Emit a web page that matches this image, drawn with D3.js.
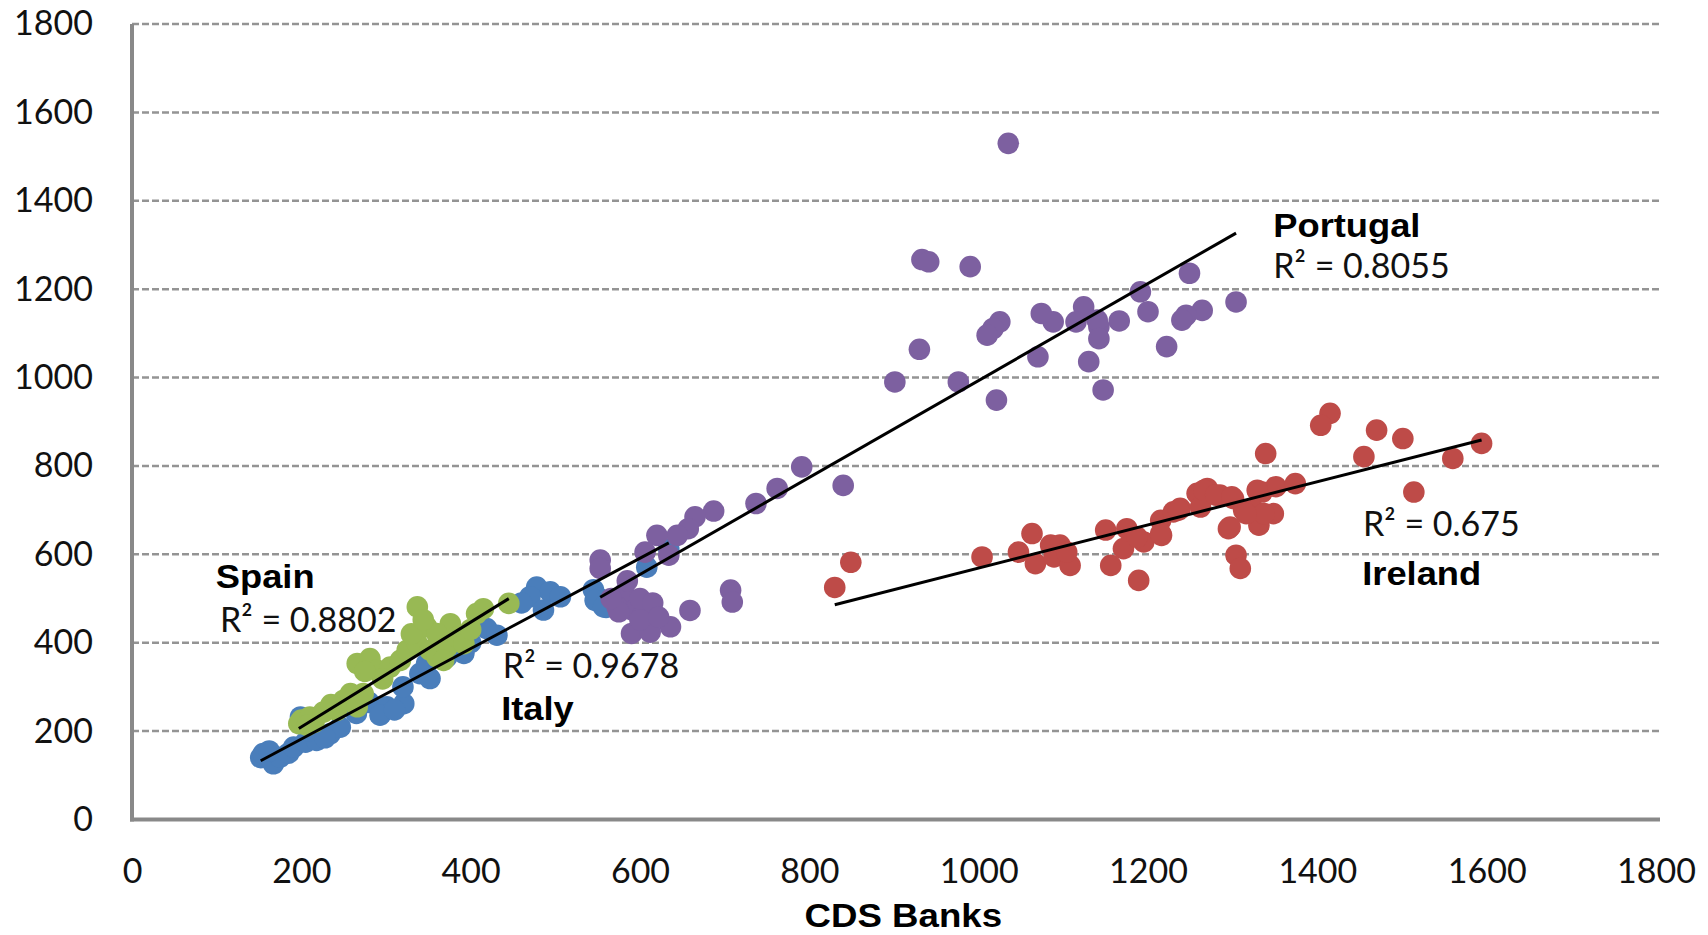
<!DOCTYPE html>
<html>
<head>
<meta charset="utf-8">
<script src="https://cdn.jsdelivr.net/npm/d3@7"></script>
<style>
    body { margin: 0; background: #fff; }
    svg { display: block; }
</style>
</head>
<body>
<svg id="chart" width="1708" height="935"></svg>
<script>
// CDS Banks vs. CDS Sovereign - Streudiagramm je Land

const countries = ['Italy', 'Spain', 'Portugal', 'Ireland'];
const rSquared = ['0.9678', '0.8802', '0.8055', '0.675'];

// Trendlinien: y = slope * x + intercept
const trendSlope = [1.023, 1.185, 1.097, 0.488];
const trendIntercept = [-22.5, -27.5, -103.6, 81];

const xTicks = [0, 200, 400, 600, 800, 1000, 1200, 1400, 1600, 1800];
const yTicks = [0, 200, 400, 600, 800, 1000, 1200, 1400, 1600, 1800];

const italyPoints = [
    [152, 140], [155, 149], [167, 126], [175, 141], [162, 155], [185, 150],
    [191, 164], [205, 175], [218, 179], [234, 194], [246, 209], [199, 232],
    [210, 200], [228, 185], [265, 240], [280, 265], [301, 255], [321, 262],
    [293, 236], [310, 248], [320, 300], [340, 330], [352, 319], [348, 353],
    [372, 368], [392, 376], [380, 390], [400, 400], [419, 432], [431, 417],
    [478, 526], [494, 515], [470, 504], [486, 474], [506, 504], [460, 490],
    [545, 520], [552, 500], [560, 480], [547, 496], [557, 481], [608, 571],
    [634, 612]
];

const spainPoints = [
    [197, 217], [200, 225], [215, 220], [210, 232], [226, 243], [207, 213],
    [242, 247], [250, 270], [258, 285], [266, 255], [273, 285], [266, 353],
    [281, 364], [289, 338], [305, 345], [317, 360], [325, 383], [337, 398],
    [337, 481], [348, 436], [352, 383], [360, 368], [372, 390], [376, 443],
    [384, 413], [392, 398], [407, 466], [415, 477], [445, 489], [360, 421],
    [368, 360], [235, 260], [296, 318], [330, 420], [344, 452], [400, 430],
    [275, 335]
];

const portugalPoints = [
    [1035, 1530], [933, 1267], [941, 1262], [990, 1251], [1249, 1236], [1191, 1194],
    [1304, 1171], [1264, 1152], [1245, 1141], [1240, 1130], [1200, 1149], [1166, 1128],
    [1142, 1115], [1140, 1130], [1142, 1088], [1124, 1160], [1115, 1126], [1088, 1126],
    [1074, 1145], [1025, 1126], [1017, 1111], [1010, 1096], [1070, 1047], [1130, 1036],
    [1147, 972], [1222, 1070], [930, 1064], [901, 990], [976, 990], [1021, 949],
    [791, 798], [840, 756], [762, 749], [737, 715], [687, 698], [665, 685],
    [657, 658], [644, 643], [620, 643], [606, 605], [634, 598], [553, 587],
    [553, 568], [581, 511], [592, 473], [604, 466], [573, 481], [590, 421],
    [612, 424], [636, 436], [659, 473], [707, 519], [709, 492], [600, 500],
    [615, 490], [585, 540], [575, 470], [600, 452], [566, 500], [622, 458]
];

const irelandPoints = [
    [830, 525], [849, 582], [1004, 594], [1047, 605], [1063, 647], [1067, 579],
    [1085, 621], [1096, 621], [1089, 594], [1108, 575], [1104, 605], [1150, 655],
    [1175, 658], [1156, 575], [1171, 613], [1189, 541], [1195, 628], [1187, 639],
    [1215, 677], [1216, 643], [1230, 696], [1238, 704], [1258, 738], [1270, 749],
    [1262, 707], [1285, 734], [1301, 726], [1295, 658], [1304, 598], [1309, 568],
    [1313, 700], [1331, 666], [1335, 741], [1348, 692], [1351, 753], [1339, 828],
    [1374, 760], [1325, 700], [1415, 919], [1404, 892], [1470, 881], [1501, 862],
    [1455, 821], [1560, 817], [1594, 851], [1514, 741], [1266, 745], [1280, 734],
    [1299, 730], [1329, 745], [1337, 692], [1316, 692], [1297, 662], [1236, 700],
    [1215, 647]
];

const seriesPoints = [italyPoints, spainPoints, portugalPoints, irelandPoints];
const seriesColors = ['#4a7ebb', '#98b954', '#7d60a0', '#be4b48'];

// Beschriftungen (Datenkoordinaten, linke Kante / Grundlinie)
const labelPos = {
    Italy:    { name: [436, 226], r2: [438, 320] },
    Spain:    { name: [99, 523],  r2: [104, 424] },
    Portugal: { name: [1348, 1318], r2: [1348, 1225] },
    Ireland:  { name: [1453, 531], r2: [1454, 641] }
};

const svg = d3.select('#chart');
const margin = { left: 132, right: 52, top: 24, bottom: 115.5 };
const width = 1708;
const height = 935;

const xScale = d3.scaleLinear()
    .domain([0, 1800])
    .range([margin.left, width - margin.right]);

const yScale = d3.scaleLinear()
    .domain([0, 1800])
    .range([height - margin.bottom, margin.top]);

const tickFont = 'Lato, "Open Sans", sans-serif';
const boldFont = 'Arial, "Liberation Sans", sans-serif';

// Gitterlinien
svg.append('g')
    .selectAll('line')
    .data(yTicks.filter(d => d > 0))
    .enter()
    .append('line')
    .attr('x1', xScale(0))
    .attr('x2', xScale(1800) + 3)
    .attr('y1', d => yScale(d))
    .attr('y2', d => yScale(d))
    .attr('stroke', '#949494')
    .attr('stroke-width', 2.5)
    .attr('stroke-dasharray', '7,3');

// Achsen
const yAxis = svg.append('g')
    .attr('transform', `translate(${xScale(0)},0)`)
    .call(d3.axisLeft(yScale).tickValues(yTicks).tickFormat(d3.format('d'))
        .tickSize(0).tickPadding(39));

const xAxis = svg.append('g')
    .attr('transform', `translate(0,${yScale(0)})`)
    .call(d3.axisBottom(xScale).tickValues(xTicks).tickFormat(d3.format('d'))
        .tickSize(0).tickPadding(39));

[yAxis, xAxis].forEach(ax => {
    ax.select('.domain')
        .attr('stroke', '#898989')
        .attr('stroke-width', 4);
    ax.selectAll('text')
        .style('font-family', tickFont)
        .style('font-size', '34px')
        .attr('fill', '#111');
});

xAxis.select('.domain')
    .attr('d', `M${xScale(0) - 2},0H${xScale(1800) + 4}`);
yAxis.select('.domain')
    .attr('d', `M0,${yScale(1800)}V${yScale(0) + 2}`);

// Punkte
seriesPoints.forEach((pts, i) => {
    svg.append('g')
        .selectAll('circle')
        .data(pts)
        .enter()
        .append('circle')
        .attr('cx', d => xScale(d[0]))
        .attr('cy', d => yScale(d[1]))
        .attr('r', 10.8)
        .attr('fill', seriesColors[i]);
});

// Trendlinien ueber den Wertebereich der Serie
seriesPoints.forEach((pts, i) => {
    const [x0, x1] = d3.extent(pts, d => d[0]);
    const f = x => trendSlope[i] * x + trendIntercept[i];
    svg.append('line')
        .attr('x1', xScale(x0))
        .attr('y1', yScale(f(x0)))
        .attr('x2', xScale(x1))
        .attr('y2', yScale(f(x1)))
        .attr('stroke', '#000')
        .attr('stroke-width', 3);
});

// Laendernamen und R²
countries.forEach((c, i) => {
    const p = labelPos[c];
    svg.append('text')
        .attr('transform', `translate(${xScale(p.name[0])},${yScale(p.name[1])}) scale(1.1,1)`)
        .style('font-family', boldFont)
        .style('font-weight', 'bold')
        .style('font-size', '33px')
        .attr('fill', '#000')
        .text(c);

    svg.append('text')
        .attr('x', xScale(p.r2[0]))
        .attr('y', yScale(p.r2[1]))
        .style('font-family', tickFont)
        .style('font-size', '34px')
        .attr('fill', '#111')
        .text(`R² = ${rSquared[i]}`);
});

// X-Achsen-Titel
svg.append('text')
    .attr('transform', `translate(${xScale(911)},927) scale(1.11,1)`)
    .attr('text-anchor', 'middle')
    .style('font-family', boldFont)
    .style('font-weight', 'bold')
    .style('font-size', '33px')
    .attr('fill', '#000')
    .text('CDS Banks');
</script>
</body>
</html>
